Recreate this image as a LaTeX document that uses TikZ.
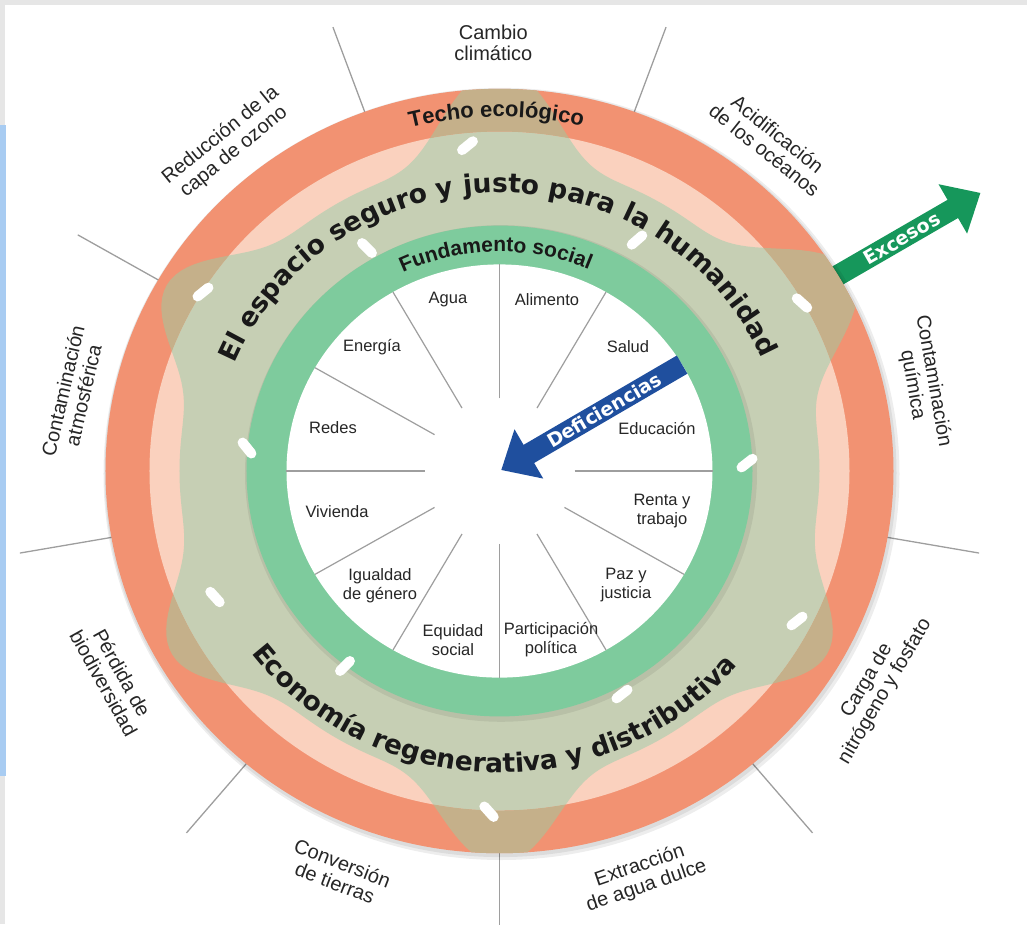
\documentclass[tikz,border=0pt]{standalone}
\usepackage{fontspec}
\setmainfont{Liberation Sans}
\newfontfamily\heavyfont{DejaVu Sans}
\usetikzlibrary{arrows.meta,decorations.text}
\definecolor{ringred}{HTML}{F29272}
\definecolor{ringpink}{HTML}{FAD1BE}
\definecolor{safeolive}{HTML}{C6CFB4}
\definecolor{safetan}{HTML}{C5B08A}
\definecolor{socialgreen}{HTML}{7ECB9D}
\definecolor{excgreen}{HTML}{16975B}
\definecolor{defblue}{HTML}{1F4F9E}
\definecolor{spokegrey}{HTML}{9E9E9E}
\definecolor{labelgrey}{HTML}{262626}
\definecolor{stripblue}{HTML}{A8CCF2}
\definecolor{stripgrey}{HTML}{E6E6E6}
\newcommand{\safespace}{plot[domain=0:60] (\x:{lobe(\x-30,88)}) -- plot[domain=60:120] (\x:{lobe(\x-90,95)}) -- plot[domain=120:180] (\x:{lobe(\x-150,64)}) -- plot[domain=180:240] (\x:{lobe(\x-210,58)}) -- plot[domain=240:300] (\x:{lobe(\x-270,85)}) -- plot[domain=300:360] (\x:{lobe(\x-330,58)}) -- cycle}
\begin{document}
\begin{tikzpicture}[x=1pt,y=0.97pt,samples=61,
  declare function={hump(\t)=(1+cos(6*\t))/2;lobe(\t,\a)=320+\a*hump(\t)*hump(\t)*hump(\t);}]
\tikzset{spoke/.style={spokegrey,line width=1.3pt},
sector/.style={spokegrey,line width=1.2pt},
outer/.style={text=labelgrey,align=center,font=\fontsize{20}{21}\selectfont},
inner/.style={text=labelgrey,align=center,font=\fontsize{16.5}{19}\selectfont},
dashmark/.style={fill=white,rounded corners=5pt,minimum width=24pt,minimum height=10pt,inner sep=0pt},
flecha/.style={line width=21pt,-{Triangle[width=55pt,length=32pt]}},
flechatexto/.style={text=white,font=\heavyfont\bfseries\fontsize{19}{19}\selectfont,sloped},
sombra/.style={black,opacity=0.07}}
\useasboundingbox (-499.5,-467) rectangle (527.5,485.6);
\fill[stripgrey] (-499.5,480.4) rectangle (527.5,485.6);
\fill[stripgrey] (-499.5,356.7) rectangle (-494.5,480.4);
\fill[stripblue] (-499.5,-314.4) rectangle (-493.5,356.7);
\fill[stripgrey] (-499.5,-467) rectangle (-494.5,-314.4);

\foreach \a in {110,70,-10,-50,-90,-130,-170,150}
  \draw[spoke] (\a:380) -- (\a:487);

\coordinate (exc0) at (30.8:380);
\coordinate (exc1) at (30.8:560);
\draw[flecha,excgreen] (exc0) -- (exc1) node[flechatexto,pos=0.49] (excesos) {Excesos};

\fill[sombra] (2,-3) circle[radius=398];
\fill[sombra] (1,-2) circle[radius=396];
\fill[ringred] (0,0) circle[radius=394];
\fill[ringpink] (0,0) circle[radius=350];
\begin{scope}
\clip (0,0) circle[radius=350];
\fill[safeolive] \safespace;
\end{scope}
\begin{scope}
\clip \safespace;
\fill[safetan,even odd rule] (0,0) circle[radius=394] (0,0) circle[radius=350];
\end{scope}
\fill[sombra] (1.5,-2.5) circle[radius=256];
\fill[socialgreen] (0,0) circle[radius=253];
\fill[white] (0,0) circle[radius=213];
\foreach \a in {0,30,...,330}
  \draw[sector] (\a:75) -- (\a:213);

\node[inner] (agua) at (-51.5,176.3) {Agua};
\node[inner] (alimento) at (47.5,176.3) {Alimento};
\node[inner] (energia) at (-127.5,127.8) {Energía};
\node[inner] (salud) at (128.5,127.8) {Salud};
\node[inner] (redes) at (-166.5,44.3) {Redes};
\node[inner] (educacion) at (157.5,44.3) {Educación};
\node[inner] (vivienda) at (-162.5,-42.3) {Vivienda};
\node[inner] (renta) at (162.5,-41.2) {Renta y\\trabajo};
\node[inner] (igualdad) at (-119.5,-118.6) {Igualdad\\de género};
\node[inner] (paz) at (126.5,-117.5) {Paz y\\justicia};
\node[inner] (equidad) at (-46.5,-174.2) {Equidad\\social};
\node[inner] (participacion) at (51.5,-174.2) {Participación\\política};

\coordinate (def0) at (31:213);
\coordinate (def1) at (31:2);
\draw[flecha,defblue] (def0) -- (def1) node[flechatexto,pos=0.43] (deficiencias) {Deficiencias};

\path[decorate,decoration={text along path,text align=center,text color=black!90,
  text={|\heavyfont\bfseries\fontsize{26.5}{26.5}\selectfont|El espacio seguro y justo para la humanidad}}]
  (170:287) arc[start angle=170,end angle=11,radius=287];
\path[decorate,decoration={text along path,text align=center,text color=black!90,
  text={|\heavyfont\bfseries\fontsize{26.5}{26.5}\selectfont|Economía regenerativa y distributiva}}]
  (200:311) arc[start angle=200,end angle=337,radius=311];
\path[decorate,decoration={text along path,text align=center,text color=black!90,
  text={|\bfseries\fontsize{22}{22}\selectfont|Techo ecológico}}]
  (122:365) arc[start angle=122,end angle=59,radius=365];
\path[decorate,decoration={text along path,text align=center,text color=black!90,
  text={|\bfseries\fontsize{21}{21}\selectfont|Fundamento social}}]
  (130:226) arc[start angle=130,end angle=52,radius=226];

\foreach \px/\py/\a [count=\i] in {-32/335.4/39,-132.5/229.9/-45,-296.5/184.5/39,-252.5/23.7/-51,137.5/238.1/41,302.5/173.2/-42,247.5/8.2/38,297.5/-154.6/38,122.5/-229.9/38,-10.5/-351.2/-48,-154.5/-201/45,-284.5/-129.9/-48}
  \node[dashmark,rotate=\a] (d\i) at (\px,\py) {};

\node[outer] (cambio) at (90.8:441) {Cambio\\climático};
\node[outer,rotate=-38.7] (acidif) at (51.3:434.5) {Acidificación\\de los océanos};
\node[outer,rotate=-80] (quimica) at (12.1:433) {Contaminación\\química};
\node[outer,rotate=59.5] (carga) at (-30.5:437) {Carga de\\nitrógeno y fosfato};
\node[outer,rotate=19] (extraccion) at (-71:441.5) {Extracción\\de agua dulce};
\node[outer,rotate=-21] (tierras) at (-111.2:444.4) {Conversión\\de tierras};
\node[outer,rotate=-61] (biodiv) at (208.9:441.5) {Pérdida de\\biodiversidad};
\node[outer,rotate=77] (atmosf) at (169.3:434) {Contaminación\\atmosférica};
\node[outer,rotate=39] (ozono) at (128.9:433.5) {Reducción de la\\capa de ozono};
\end{tikzpicture}
\end{document}
